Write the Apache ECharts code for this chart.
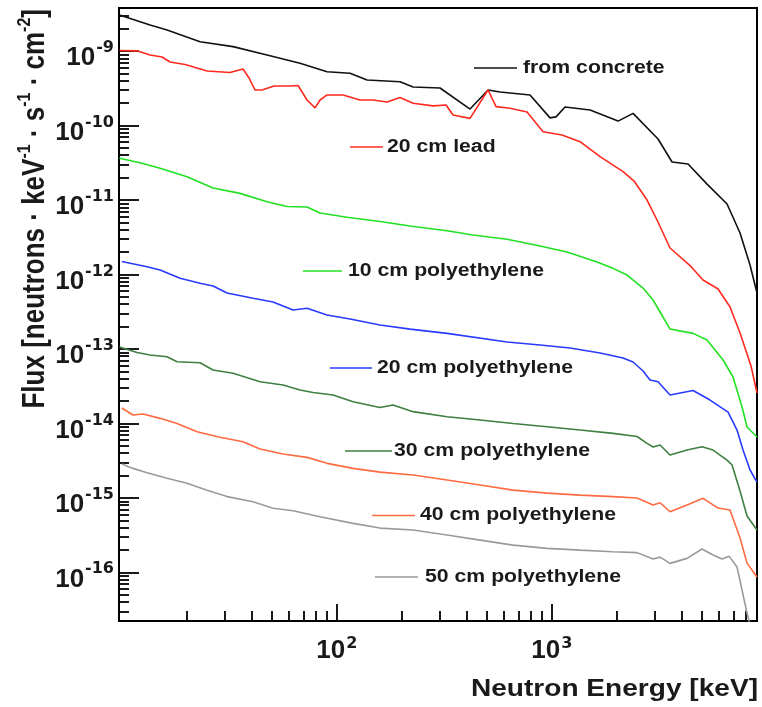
<!DOCTYPE html>
<html>
<head>
<meta charset="utf-8">
<script src="https://cdn.jsdelivr.net/npm/echarts@6/dist/echarts.min.js"></script>
<style>
  html, body { margin: 0; padding: 0; background: #ffffff; }
  #chart { width: 762px; height: 707px; }
</style>
</head>
<body>
<div id="chart"></div>
<script>
// ---------------- data ----------------
const concreteE = [9.75, 13.53, 16.23, 23.11, 32.9, 47.34, 67.43, 90.03, 115.2, 138.2, 196.8, 226.2, 302, 416.5, 505, 574.2, 791.8, 980.9, 1046, 1152, 1506, 2032, 2387, 3119, 3623, 4301, 5270, 6531, 7505, 8353, 9000];
const concreteF = [3.06e-9, 2.25e-9, 1.93e-9, 1.34e-9, 1.15e-9, 8.89e-10, 6.88e-10, 5.30e-10, 5.05e-10, 4.10e-10, 3.89e-10, 3.30e-10, 3.20e-10, 1.67e-10, 3.01e-10, 2.83e-10, 2.58e-10, 1.27e-10, 1.31e-10, 1.78e-10, 1.62e-10, 1.15e-10, 1.46e-10, 6.61e-11, 3.25e-11, 3.05e-11, 1.64e-11, 8.86e-12, 3.61e-12, 1.34e-12, 5.64e-13];

const leadE = [9.75, 11.77, 13.53, 15.38, 16.76, 19.68, 24.91, 31.86, 36.62, 39.04, 41.63, 44.87, 51.03, 60.58, 66, 72.67, 79.18, 83.54, 90.03, 106.9, 128.2, 147.4, 171.2, 196.8, 226.2, 280.2, 322, 347.2, 416.5, 505, 550.2, 639.1, 766.7, 910.2, 1115, 1353, 1676, 2144, 2413, 2772, 3086, 3546, 4394, 5050, 5932, 6743, 7505, 8443, 9000];
const leadF = [1.02e-9, 1.01e-9, 8.89e-10, 8.36e-10, 7.16e-10, 6.63e-10, 5.42e-10, 5.17e-10, 5.77e-10, 4.37e-10, 3.01e-10, 3.01e-10, 3.41e-10, 3.41e-10, 3.46e-10, 2.21e-10, 1.73e-10, 2.21e-10, 2.58e-10, 2.58e-10, 2.21e-10, 2.21e-10, 2.08e-10, 2.39e-10, 2.00e-10, 1.84e-10, 1.89e-10, 1.39e-10, 1.25e-10, 3.01e-10, 1.80e-10, 1.71e-10, 1.52e-10, 8.29e-11, 7.49e-11, 6.08e-11, 3.83e-11, 2.41e-11, 1.80e-11, 1.00e-11, 5.40e-12, 2.27e-12, 1.32e-12, 8.44e-13, 6.39e-13, 3.66e-13, 1.64e-13, 5.90e-14, 2.56e-14];

const poly10E = [9.75, 12.15, 15.06, 20.1, 26.56, 35.46, 47.34, 58.67, 72.67, 83.54, 111.5, 158.8, 219, 325.5, 430.1, 618.9, 881.4, 1177, 1623, 1926, 2238, 2656, 2956, 3187, 3546, 4537, 5270, 6258, 6964, 7668, 8088, 9000];
const poly10F = [3.64e-11, 3.18e-11, 2.67e-11, 2.06e-11, 1.45e-11, 1.23e-11, 9.51e-12, 8.20e-12, 8.07e-12, 6.70e-12, 5.87e-12, 5.16e-12, 4.49e-12, 3.88e-12, 3.40e-12, 2.97e-12, 2.42e-12, 2.01e-12, 1.47e-12, 1.21e-12, 9.85e-13, 6.59e-13, 4.55e-13, 3.14e-13, 1.85e-13, 1.62e-13, 1.32e-13, 7.11e-14, 4.20e-14, 1.66e-14, 8.95e-15, 6.57e-15];

const poly20E = [10, 13.1, 15.06, 18.65, 23.11, 26.56, 30.85, 40.75, 50.49, 62.56, 72.67, 90.03, 115.2, 158.8, 219, 325.5, 618.9, 881.4, 1215, 1676, 2144, 2387, 2656, 2862, 3119, 3546, 4537, 5442, 6601, 7267, 7750, 8353, 9000];
const poly20F = [1.50e-12, 1.27e-12, 1.15e-12, 8.89e-13, 7.62e-13, 7.01e-13, 5.64e-13, 4.79e-13, 4.27e-13, 3.34e-13, 3.52e-13, 2.86e-13, 2.53e-13, 2.10e-13, 1.85e-13, 1.62e-13, 1.24e-13, 1.13e-13, 1.03e-13, 8.82e-14, 7.56e-14, 6.68e-14, 5.06e-14, 3.83e-14, 3.63e-14, 2.41e-14, 2.77e-14, 2.06e-14, 1.42e-14, 8.15e-15, 4.39e-15, 2.37e-15, 1.63e-15];

const poly30E = [9.75, 11.77, 13.53, 16.23, 18.06, 23.11, 26.56, 32.9, 43.92, 56.2, 67.43, 77.5, 96.01, 119, 158.8, 182.5, 226.2, 325.5, 463.7, 660, 949.9, 1353, 1926, 2491, 2772, 2956, 3187, 3546, 4255, 4996, 5620, 6531, 6889, 7505, 8088, 9000];
const poly30F = [1.06e-13, 8.96e-14, 8.30e-14, 7.87e-14, 6.74e-14, 6.54e-14, 5.22e-14, 4.71e-14, 3.63e-14, 3.28e-14, 2.81e-14, 2.60e-14, 2.41e-14, 1.96e-14, 1.64e-14, 1.77e-14, 1.44e-14, 1.23e-14, 1.11e-14, 1.00e-14, 9.03e-15, 8.15e-15, 7.36e-15, 6.67e-15, 5.40e-15, 4.82e-15, 5.13e-15, 3.76e-15, 4.39e-15, 4.86e-15, 4.39e-15, 3.22e-15, 2.76e-15, 1.24e-15, 5.70e-16, 3.70e-16];

const poly40E = [10, 11.27, 12.55, 15.06, 18.06, 22.38, 28.62, 36.62, 43.92, 56.2, 72.67, 90.03, 119, 158.8, 226.2, 325.5, 463.7, 660, 949.9, 1353, 1926, 2491, 2956, 3187, 3546, 4255, 5050, 5932, 6743, 7505, 8088, 9000];
const poly40F = [1.61e-14, 1.30e-14, 1.34e-14, 1.17e-14, 1.00e-14, 7.74e-15, 6.51e-15, 5.68e-15, 4.53e-15, 3.88e-15, 3.50e-15, 2.91e-15, 2.49e-15, 2.22e-15, 2.03e-15, 1.74e-15, 1.49e-15, 1.27e-15, 1.16e-15, 1.09e-15, 1.04e-15, 9.95e-16, 8.01e-16, 8.60e-16, 6.51e-16, 8.01e-16, 9.86e-16, 7.30e-16, 6.86e-16, 2.89e-16, 1.33e-16, 8.64e-17];

const poly50E = [10, 11.27, 13.1, 16.23, 20.1, 24.91, 30.85, 40.75, 50.49, 62.56, 83.54, 119, 158.8, 226.2, 325.5, 463.7, 660, 949.9, 1353, 1926, 2491, 2956, 3187, 3546, 4255, 4996, 5620, 6192, 6672, 7267, 7668, 8088, 8533];
const poly50F = [2.85e-15, 2.49e-15, 2.18e-15, 1.83e-15, 1.57e-15, 1.27e-15, 1.04e-15, 8.87e-16, 7.24e-16, 6.72e-16, 5.58e-16, 4.55e-16, 3.93e-16, 3.70e-16, 3.17e-16, 2.71e-16, 2.32e-16, 2.10e-16, 1.99e-16, 1.89e-16, 1.84e-16, 1.51e-16, 1.60e-16, 1.32e-16, 1.54e-16, 2.06e-16, 1.71e-16, 1.51e-16, 1.65e-16, 1.18e-16, 5.78e-17, 2.84e-17, 1.58e-17];

const seriesNames = ['from concrete', '20 cm lead', '10 cm polyethylene', '20 cm polyethylene', '30 cm polyethylene', '40 cm polyethylene', '50 cm polyethylene'];
const seriesE = [concreteE, leadE, poly10E, poly20E, poly30E, poly40E, poly50E];
const seriesF = [concreteF, leadF, poly10F, poly20F, poly30F, poly40F, poly50F];

// axis ticks
const xMajorTicks = [100, 1000];
const xDecades = [10, 100, 1000];
const yMajorTicks = [1e-16, 1e-15, 1e-14, 1e-13, 1e-12, 1e-11, 1e-10, 1e-9];
const yDecades = [1e-17, 1e-16, 1e-15, 1e-14, 1e-13, 1e-12, 1e-11, 1e-10, 1e-9];
const minorMantissas = [2, 3, 4, 5, 6, 7, 8, 9];

const xTitle = 'Neutron Energy [keV]';

// ---------------- styling / layout ----------------
const colors = ['#111111', '#ff2a1f', '#22e022', '#2a3aff', '#3f7f3f', '#ff6b40', '#9a9a9a'];
// legend annotation positions: [lineStartX, lineEndX, textX, centerY]
const legendPos = [
  [474, 517, 523, 68],
  [350, 383, 387, 147],
  [303, 342, 348, 271],
  [330, 372, 377, 368],
  [345, 392, 394, 451],
  [372, 415, 420, 515.5],
  [375, 418, 425, 577]
];

const xMin = 9.7, xMax = 9000, yMin = 2.22e-17, yMax = 3.8e-9;
const xMinorTicks = [];
xDecades.forEach(d => minorMantissas.forEach(m => xMinorTicks.push(m * d)));
const yMinorTicks = [];
yDecades.forEach(d => minorMantissas.forEach(m => yMinorTicks.push(m * d)));

const textColor = '#1a1a1a';
const expFormatter = v => '{b|10}{s|' + Math.round(Math.log10(v)) + '}';

const chart = echarts.init(document.getElementById('chart'), null, { renderer: 'canvas' });

const series = seriesNames.map((name, i) => ({
  name: name,
  type: 'line',
  xAxisIndex: 0,
  yAxisIndex: 0,
  data: seriesE[i].map((e, k) => [e, seriesF[i][k]]),
  showSymbol: false,
  symbol: 'none',
  smooth: false,
  clip: true,
  lineStyle: { color: colors[i], width: 1.6 },
  itemStyle: { color: colors[i] },
  emphasis: { disabled: true },
  z: 3
}));

const graphics = [];
seriesNames.forEach((name, i) => {
  const p = legendPos[i];
  graphics.push({
    type: 'line',
    shape: { x1: p[0], y1: p[3], x2: p[1], y2: p[3] },
    style: { stroke: colors[i], lineWidth: 1.6 },
    z: 10
  });
  graphics.push({
    type: 'text',
    x: p[2], y: p[3],
    scaleX: 1.18,
    style: {
      text: name,
      fontFamily: 'Liberation Sans', fontWeight: 'bold', fontSize: 18,
      fill: textColor,
      align: 'left', verticalAlign: 'middle',
      textAlign: 'left', textVerticalAlign: 'middle'
    },
    z: 10
  });
});
// x axis title
graphics.push({
  type: 'text',
  x: 758, y: 689,
  scaleX: 1.17,
  style: {
    text: xTitle,
    fontFamily: 'Liberation Sans', fontWeight: 'bold', fontSize: 24,
    fill: textColor,
    align: 'right', verticalAlign: 'middle',
    textAlign: 'right', textVerticalAlign: 'middle'
  },
  z: 10
});
// y axis title (rotated, with superscripts)
graphics.push({
  type: 'text',
  x: 33, y: 9,
  rotation: Math.PI / 2,
  scaleY: 1.2,
  style: {
    text: '{t|Flux [neutrons \u00b7 keV}{s|-1}{t| \u00b7 s}{s|-1}{t| \u00b7 cm}{s|-2}{t|]}',
    rich: {
      t: { fontFamily: 'Liberation Sans', fontWeight: 'bold', fontSize: 26, lineHeight: 30, verticalAlign: 'bottom', fill: textColor },
      s: { fontFamily: 'Liberation Sans', fontWeight: 'bold', fontSize: 16, lineHeight: 16, verticalAlign: 'top', fill: textColor }
    },
    align: 'right', verticalAlign: 'middle',
    textAlign: 'right', textVerticalAlign: 'middle'
  },
  z: 10
});

const tickLine = { color: '#000', width: 1.8 };

const option = {
  animation: false,
  backgroundColor: '#ffffff',
  grid: {
    left: 119, top: 8, right: 5, bottom: 86,
    show: true, borderColor: '#000', borderWidth: 2, backgroundColor: 'transparent',
    containLabel: false
  },
  xAxis: [
    {
      type: 'log', logBase: 10, min: xMin, max: xMax, position: 'bottom', gridIndex: 0,
      axisLine: { show: false },
      splitLine: { show: false },
      minorTick: { show: false },
      axisTick: { show: true, inside: true, length: 17, customValues: xMajorTicks, lineStyle: tickLine },
      axisLabel: {
        show: true, customValues: xMajorTicks, margin: 13,
        formatter: expFormatter,
        rich: {
          b: { fontFamily: 'Liberation Sans', fontWeight: 'bold', fontSize: 26, lineHeight: 30, verticalAlign: 'bottom', color: textColor },
          s: { fontFamily: 'DejaVu Sans', fontWeight: 'bold', fontSize: 16, lineHeight: 16, verticalAlign: 'top', padding: [2, 0, 0, 1], color: textColor }
        }
      }
    },
    {
      type: 'log', logBase: 10, min: xMin, max: xMax, position: 'bottom', gridIndex: 0, offset: 0,
      axisLine: { show: false },
      splitLine: { show: false },
      axisTick: { show: true, inside: true, length: 10, customValues: xMinorTicks, lineStyle: tickLine },
      axisLabel: { show: false, customValues: xMinorTicks }
    }
  ],
  yAxis: [
    {
      type: 'log', logBase: 10, min: yMin, max: yMax, position: 'left', gridIndex: 0,
      axisLine: { show: false },
      splitLine: { show: false },
      minorTick: { show: false },
      axisTick: { show: true, inside: true, length: 20, customValues: yMajorTicks, lineStyle: tickLine },
      axisLabel: {
        show: true, customValues: yMajorTicks, margin: 5,
        formatter: expFormatter,
        rich: {
          b: { fontFamily: 'Liberation Sans', fontWeight: 'bold', fontSize: 26, lineHeight: 40, verticalAlign: 'bottom', color: textColor },
          s: { fontFamily: 'DejaVu Sans', fontWeight: 'bold', fontSize: 16, lineHeight: 16, verticalAlign: 'top', padding: [9, 0, 0, 1], color: textColor }
        }
      }
    },
    {
      type: 'log', logBase: 10, min: yMin, max: yMax, position: 'left', gridIndex: 0, offset: 0,
      axisLine: { show: false },
      splitLine: { show: false },
      axisTick: { show: true, inside: true, length: 10, customValues: yMinorTicks, lineStyle: tickLine },
      axisLabel: { show: false, customValues: yMinorTicks }
    }
  ],
  series: series,
  graphic: graphics
};

chart.setOption(option);
</script>
</body>
</html>
